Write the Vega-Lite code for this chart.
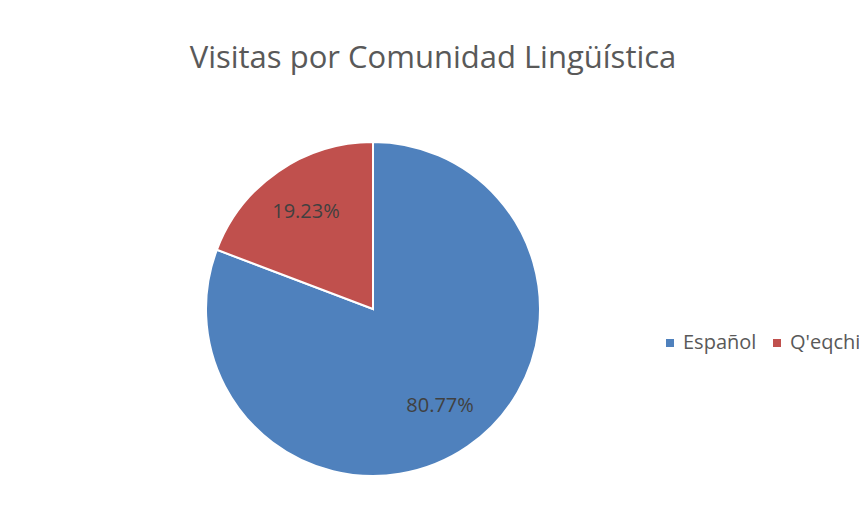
{
  "$schema": "https://vega.github.io/schema/vega-lite/v6.json",
  "autosize": "none",
  "width": 746,
  "height": 436,
  "padding": {"left": 0, "top": 91, "right": 113, "bottom": 0},
  "background": "white",
  "config": {"view": {"stroke": null}},
  "title": {
    "text": "Visitas por Comunidad Lingüística",
    "font": "Open Sans",
    "fontSize": 31,
    "fontWeight": "normal",
    "color": "#595959",
    "anchor": "middle",
    "frame": "group",
    "baseline": "alphabetic",
    "offset": 25,
    "dx": 60,
    "dy": 33
  },
  "data": {
    "values": [
      {"lengua": "Español", "share": 0.8077},
      {"lengua": "Q'eqchi", "share": 0.1923}
    ]
  },
  "encoding": {
    "theta": {"field": "share", "type": "quantitative", "stack": true},
    "order": {"field": "lengua", "sort": "ascending"}
  },
  "layer": [
    {
      "mark": {"type": "arc", "outerRadius": 167, "stroke": "white", "strokeWidth": 2},
      "encoding": {
        "color": {
          "field": "lengua",
          "type": "nominal",
          "scale": {"domain": ["Español", "Q'eqchi"], "range": ["#4F81BD", "#C0504D"]},
          "legend": {
            "title": null,
            "orient": "none",
            "direction": "horizontal",
            "legendX": 660,
            "legendY": 242,
            "symbolType": "square",
            "symbolSize": 64,
            "symbolStrokeWidth": 0,
            "labelFont": "Open Sans",
            "labelFontSize": 20,
            "labelColor": "#595959",
            "labelOffset": 3,
            "columnPadding": 10,
            "padding": 0
          }
        }
      }
    },
    {
      "mark": {"type": "text", "radius": 118, "font": "Open Sans", "fontSize": 20, "fill": "#404040"},
      "encoding": {
        "text": {"field": "share", "type": "quantitative", "format": ".2%"},
        "detail": {"field": "lengua", "type": "nominal"}
      }
    }
  ]
}
